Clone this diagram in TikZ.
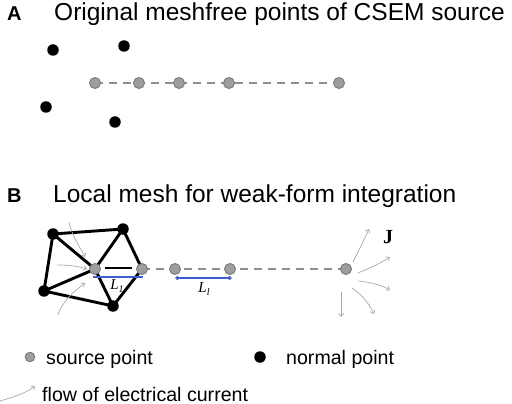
\documentclass[tikz,border=0pt]{standalone}
\usepackage{fontspec}
\setmainfont{Liberation Sans}
\newfontfamily\seriffont{Liberation Serif}
\usetikzlibrary{arrows.meta}
\definecolor{srcfill}{HTML}{9E9E9E}
\definecolor{srcdraw}{HTML}{7C7C7C}
\definecolor{dashcol}{HTML}{8E8E8E}
\definecolor{flowcol}{HTML}{A8A8A8}
\definecolor{lenblue}{HTML}{3F5FD0}
\begin{document}
\begin{tikzpicture}[x=1pt,y=-1pt,
  src/.style={circle,fill=srcfill,draw=srcdraw,line width=1pt,minimum size=11pt,inner sep=0pt},
  nrm/.style={circle,fill=black,minimum size=11.5pt,inner sep=0pt},
  head/.style={inner sep=0pt,anchor=base west,font=\fontsize{24.5}{28}\selectfont},
  panel/.style={inner sep=0pt,anchor=base west,font=\fontsize{20}{24}\selectfont\bfseries},
  legtext/.style={inner sep=0pt,anchor=base west,font=\fontsize{19.6}{23}\selectfont},
  srcline/.style={draw=dashcol,line width=2.8pt,dash pattern=on 8pt off 6pt},
  mesh/.style={draw=black,line width=2.9pt,line cap=round},
  flow/.style={draw=flowcol,line width=0.7pt,-{Straight Barb[length=3pt,width=5pt]}},
  lenline/.style={draw=lenblue,line width=1.1pt},
  lenlab/.style={inner sep=0pt,font=\fontsize{15}{17}\selectfont\seriffont\itshape}
]
\useasboundingbox (0,0) rectangle (512,404);

% ---------- Panel A ----------
\node[panel] (pA) at (7,21) {A};
\node[head] (tA) at (54,21) {Original meshfree points of CSEM source};

\coordinate (aL) at (95,83);
\coordinate (aR) at (339,83);
\draw[srcline] (aL) -- (aR);
\node[src] (as1) at (95,83) {};
\node[src] (as2) at (139,83) {};
\node[src] (as3) at (179,83) {};
\node[src] (as4) at (229,83) {};
\node[src] (as5) at (339,83) {};
\node[nrm] (an1) at (53,50) {};
\node[nrm] (an2) at (124,46) {};
\node[nrm] (an3) at (46,107) {};
\node[nrm] (an4) at (115,122) {};

% ---------- Panel B ----------
\node[panel] (pB) at (7,202) {B};
\node[head] (tB) at (53,202) {Local mesh for weak-form integration};

\coordinate (bL) at (142,269);
\coordinate (bR) at (346,269);
\draw[srcline] (bL) -- (bR);

\coordinate (n1) at (53,234);
\coordinate (n2) at (123,229);
\coordinate (n3) at (44,291);
\coordinate (n4) at (113,306);
\coordinate (c1) at (95,269);
\coordinate (c2) at (142,269);
\draw[mesh] (n1) -- (n2);
\draw[mesh] (n1) -- (n3);
\draw[mesh] (n1) -- (c1);
\draw[mesh] (n2) -- (c1);
\draw[mesh] (n2) -- (c2);
\draw[mesh] (n3) -- (c1);
\draw[mesh] (n3) -- (n4);
\draw[mesh] (c1) -- (n4);
\draw[mesh] (c2) -- (n4);

\node[src] (bs1) at (c1) {};
\node[src] (bs2) at (c2) {};
\node[src] (bs3) at (175,269) {};
\node[src] (bs4) at (230,269) {};
\node[src] (bs5) at (346,269) {};
\node[nrm] (bn1) at (n1) {};
\node[nrm] (bn2) at (n2) {};
\node[nrm] (bn3) at (n3) {};
\node[nrm] (bn4) at (n4) {};

\draw[mesh,line cap=butt,shorten <=4pt,shorten >=4pt] ([yshift=1pt]bs1.east) -- ([yshift=1pt]bs2.west);

% length markers
\coordinate (l1a) at (93,277);
\coordinate (l1b) at (143,277);
\draw[lenline] (l1a) -- (l1b);
\node[lenlab] (L1) at (117,286) {L\raisebox{-2.5pt}{\fontsize{10}{10}\selectfont 1}};
\coordinate (l2a) at (175,278);
\coordinate (l2b) at (232,278);
\draw[lenline,{Straight Barb[length=2.2pt,width=3.8pt]}-{Straight Barb[length=2.2pt,width=3.8pt]}] (l2a) -- (l2b);
\node[lenlab] (L2) at (204,289) {L\raisebox{-2.5pt}{\fontsize{10}{10}\selectfont l}};

% flow of current, left
\coordinate (f1a) at (69,222);
\coordinate (f1b) at (85,257);
\draw[flow] (f1a) .. controls (72,236) and (80,247) .. (f1b);
\coordinate (f2a) at (57,265);
\coordinate (f2b) at (87,269);
\draw[flow] (f2a) .. controls (68,265) and (78,266) .. (f2b);
\coordinate (f3a) at (58,315);
\coordinate (f3b) at (85,283);
\draw[flow] (f3a) .. controls (62,302) and (72,293) .. (f3b);

% flow of current, right
\coordinate (g1a) at (353,262);
\coordinate (g1b) at (369,229);
\draw[flow] (g1a) .. controls (358,252) and (364,240) .. (g1b);
\coordinate (g2a) at (358,273);
\coordinate (g2b) at (390,257);
\draw[flow] (g2a) .. controls (370,268) and (381,263) .. (g2b);
\coordinate (g3a) at (358,281);
\coordinate (g3b) at (390,290);
\draw[flow] (g3a) .. controls (370,282) and (381,285) .. (g3b);
\coordinate (g4a) at (352,288);
\coordinate (g4b) at (374,314);
\draw[flow] (g4a) .. controls (361,294) and (369,303) .. (g4b);
\coordinate (g5a) at (341,292);
\coordinate (g5b) at (341,317);
\draw[flow] (g5a) -- (g5b);

\node[inner sep=0pt,font=\fontsize{20}{22}\selectfont\seriffont\bfseries] (J) at (388,237) {J};

% ---------- Legend ----------
\node[src,minimum size=9.5pt] (legs) at (30,357) {};
\node[legtext] (legst) at (46,364) {source point};
\node[nrm] (legn) at (260,357) {};
\node[legtext] (legnt) at (286,364) {normal point};
\coordinate (lfa) at (0,401);
\coordinate (lfb) at (35,386);
\draw[flow] (lfa) .. controls (14,397) and (26,393) .. (lfb);
\node[legtext] (legft) at (42,401) {flow of electrical current};
\end{tikzpicture}
\end{document}
